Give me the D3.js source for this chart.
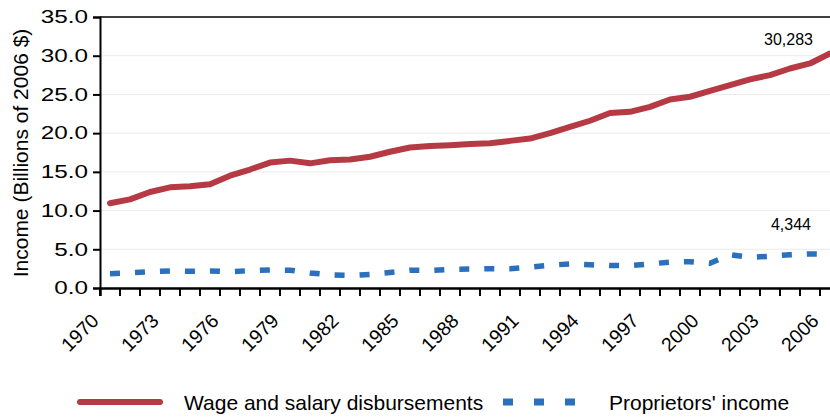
<!DOCTYPE html>
<html><head><meta charset="utf-8">
<script src="https://cdn.jsdelivr.net/npm/d3@7"></script>
<style>
html,body{margin:0;padding:0;background:#fff;}
svg{display:block;font-family:"Liberation Sans",Arial,sans-serif;}
</style></head>
<body>
<svg id="chart" width="830" height="417"></svg>
<script>
const years = d3.range(1970, 2007);
const wageValues = [10.94, 11.45, 12.4, 13.0, 13.15, 13.4, 14.5, 15.3, 16.2, 16.45,
  16.1, 16.5, 16.6, 16.95, 17.6, 18.15, 18.35, 18.45, 18.6, 18.7,
  19.0, 19.3, 20.0, 20.8, 21.6, 22.6, 22.75, 23.4, 24.35, 24.7,
  25.45, 26.2, 26.95, 27.5, 28.35, 29.0, 30.283];
const propValues = [1.85, 1.95, 2.1, 2.2, 2.15, 2.2, 2.1, 2.25, 2.32, 2.3,
  1.95, 1.7, 1.63, 1.75, 2.0, 2.3, 2.25, 2.4, 2.45, 2.5,
  2.5, 2.7, 2.95, 3.1, 3.0, 2.9, 2.88, 3.1, 3.35, 3.4,
  3.2, 4.3, 3.95, 4.1, 4.3, 4.4, 4.344];
const yTicks = [0, 5, 10, 15, 20, 25, 30, 35];
const xLabelYears = [1970, 1973, 1976, 1979, 1982, 1985, 1988, 1991, 1994, 1997, 2000, 2003, 2006];
const seriesNames = ["Wage and salary disbursements", "Proprietors' income"];
const endLabels = ["30,283", "4,344"];
const yTitle = "Income (Billions of 2006 $)";

(function () {
const red = "#B63A44", blue = "#2B70BC";
const svg = d3.select("#chart");
const mLeft = 100, mTop = 17, mBottom = 288;

const x = d3.scaleBand().domain(years).range([mLeft, 840]).paddingInner(0).paddingOuter(0);
const y = d3.scaleLinear().domain([0, 35]).range([mBottom, mTop]);
const cx = d => x(d) + x.bandwidth() / 2;

// gridlines
svg.append("g").selectAll("line").data(yTicks.filter(t => t > 0 && t < 35)).join("line")
  .attr("x1", mLeft).attr("x2", 830).attr("y1", d => y(d)).attr("y2", d => y(d))
  .attr("stroke", "#ebebeb").attr("stroke-width", 1);

// top border
svg.append("line").attr("x1", mLeft).attr("x2", 830).attr("y1", y(35)).attr("y2", y(35))
  .attr("stroke", "#000").attr("stroke-width", 1.5);

// y axis
const sx = 1.35;
const yAxis = d3.axisLeft(y).tickValues(yTicks).tickFormat(d3.format(".1f")).tickSize(7).tickPadding(5);
const gy = svg.append("g").attr("transform", `translate(${mLeft},0)`).call(yAxis);
gy.select(".domain").attr("stroke", "#000").attr("stroke-width", 2);
gy.selectAll(".tick line").attr("stroke", "#000").attr("stroke-width", 2);
gy.selectAll(".tick text").attr("font-size", 18).attr("fill", "#000")
  .attr("font-family", "Liberation Sans, Arial, sans-serif")
  .attr("x", -12 / sx).attr("transform", `scale(${sx},1)`);

// x axis
const xAxis = d3.axisBottom(x).tickSize(8).tickFormat("");
const gx = svg.append("g").attr("transform", `translate(0,${mBottom})`).call(xAxis);
gx.select(".domain").attr("stroke", "#000").attr("stroke-width", 2.5);
gx.selectAll(".tick").attr("transform", d => `translate(${x(d)},0)`);
gx.selectAll(".tick line").attr("stroke", "#000").attr("stroke-width", 2);

svg.append("g").selectAll("text").data(xLabelYears).join("text")
  .attr("transform", d => `translate(${x(d)},${mBottom + 34}) rotate(-45)`)
  .attr("text-anchor", "end").attr("font-size", 19.5).attr("fill", "#000")
  .text(d => d);

// y title
svg.append("text").attr("transform", `translate(28,${(28 + 278) / 2}) rotate(-90)`)
  .attr("text-anchor", "middle").attr("font-size", 21).attr("fill", "#000").text(yTitle);

// lines
const line = d3.line().x((d, i) => cx(years[i])).y(d => y(d));
svg.append("path").datum(wageValues).attr("d", line).attr("fill", "none")
  .attr("stroke", red).attr("stroke-width", 6).attr("stroke-linejoin", "round").attr("stroke-linecap", "round");
svg.append("path").datum(propValues).attr("d", line).attr("fill", "none")
  .attr("stroke", blue).attr("stroke-width", 5.5).attr("stroke-dasharray", "10,15");

// end labels
svg.append("text").attr("x", 813).attr("y", 45).attr("text-anchor", "end").attr("font-size", 16).text(endLabels[0]);
svg.append("text").attr("x", 811).attr("y", 230).attr("text-anchor", "end").attr("font-size", 16).text(endLabels[1]);

// legend
const ly = 402;
svg.append("line").attr("x1", 80).attr("x2", 160).attr("y1", ly).attr("y2", ly)
  .attr("stroke", red).attr("stroke-width", 6).attr("stroke-linecap", "round");
svg.append("text").attr("x", 184).attr("y", ly + 8).attr("font-size", 21).text(seriesNames[0]);
svg.append("line").attr("x1", 503).attr("x2", 577).attr("y1", ly).attr("y2", ly)
  .attr("stroke", blue).attr("stroke-width", 7).attr("stroke-dasharray", "10,21");
svg.append("text").attr("x", 609).attr("y", ly + 8).attr("font-size", 21).text(seriesNames[1]);
})();
</script>
</body></html>
